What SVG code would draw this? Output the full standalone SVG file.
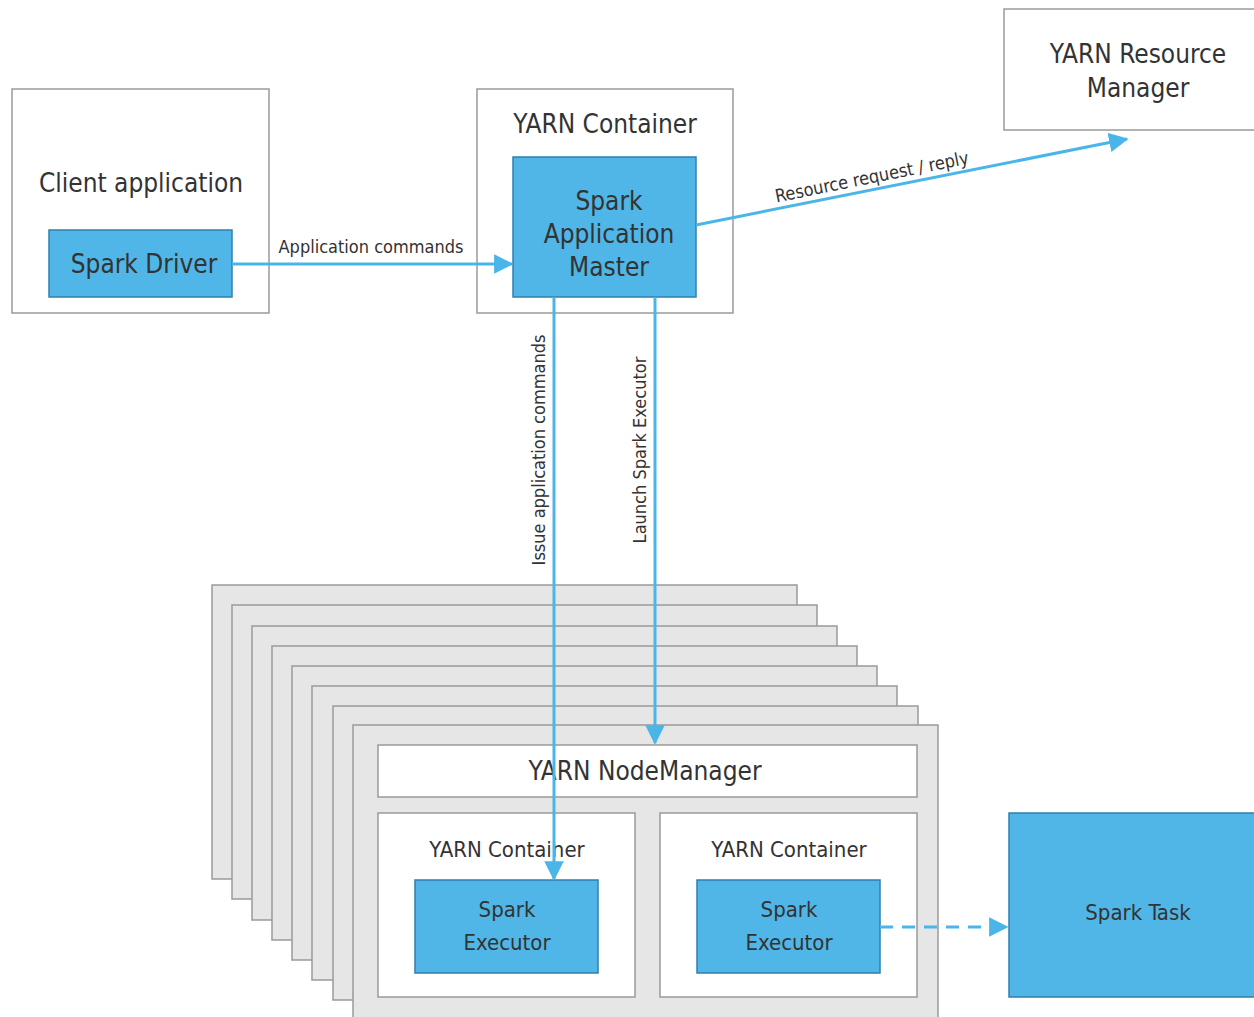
<svg xmlns="http://www.w3.org/2000/svg" width="1254" height="1017" viewBox="0 0 1254 1017">
<defs>
<style>
.box{fill:#ffffff;stroke:#9a9a9a;stroke-width:1.5}
.card{fill:#e6e6e6;stroke:#9a9a9a;stroke-width:1.5}
.blue{fill:#4fb6e7;stroke:#2f7fae;stroke-width:1.5}
.t{font-family:"DejaVu Sans Condensed","Open Sans",sans-serif;fill:#333;text-anchor:middle}
.big{font-size:26px}
.mid{font-size:22px}
.sm{font-size:18px}
.ln{stroke:#4ab5e8;stroke-width:3;fill:none}
</style>
<marker id="ah" markerWidth="6.5" markerHeight="6.5" refX="5.5" refY="3" orient="auto" markerUnits="strokeWidth" viewBox="0 0 6 6">
<path d="M0,0 L6,3 L0,6 z" fill="#4ab5e8"/>
</marker>
</defs>

<g id="client-application">
<rect class="box" x="12" y="89" width="257" height="224"/>
<text class="t big" x="141" y="192">Client application</text>
</g>
<g id="spark-driver">
<rect class="blue" x="49" y="230" width="183" height="67"/>
<text class="t big" x="144" y="273">Spark Driver</text>
</g>

<g id="yarn-container-top">
<rect class="box" x="477" y="89" width="256" height="224"/>
<text class="t big" x="605" y="133">YARN Container</text>
</g>
<g id="spark-application-master">
<rect class="blue" x="513" y="157" width="183" height="140"/>
<text class="t big" x="609" y="210">Spark</text>
<text class="t big" x="609" y="243">Application</text>
<text class="t big" x="609" y="276">Master</text>
</g>

<g id="yarn-resource-manager">
<rect class="box" x="1004" y="9" width="256" height="121"/>
<text class="t big" x="1138" y="63">YARN Resource</text>
<text class="t big" x="1138" y="97">Manager</text>
</g>

<g id="node-stack">
<rect class="card" x="212" y="585" width="585" height="294"/>
<rect class="card" x="232" y="605" width="585" height="294"/>
<rect class="card" x="252" y="626" width="585" height="294"/>
<rect class="card" x="272" y="646" width="585" height="294"/>
<rect class="card" x="292" y="666" width="585" height="294"/>
<rect class="card" x="312" y="686" width="585" height="294"/>
<rect class="card" x="333" y="706" width="585" height="294"/>
<rect class="card" x="353" y="725" width="585" height="300"/>
</g>

<g id="yarn-nodemanager">
<rect class="box" x="378" y="745" width="539" height="52"/>
<text class="t big" x="645" y="780">YARN NodeManager</text>
</g>

<g id="yarn-container-left">
<rect class="box" x="378" y="813" width="257" height="184"/>
<text class="t mid" x="507" y="857">YARN Container</text>
</g>
<g id="spark-executor-left">
<rect class="blue" x="415" y="880" width="183" height="93"/>
<text class="t mid" x="507" y="917">Spark</text>
<text class="t mid" x="507" y="950">Executor</text>
</g>

<g id="yarn-container-right">
<rect class="box" x="660" y="813" width="257" height="184"/>
<text class="t mid" x="789" y="857">YARN Container</text>
</g>
<g id="spark-executor-right">
<rect class="blue" x="697" y="880" width="183" height="93"/>
<text class="t mid" x="789" y="917">Spark</text>
<text class="t mid" x="789" y="950">Executor</text>
</g>

<g id="spark-task">
<rect class="blue" x="1009" y="813" width="250" height="184"/>
<text class="t mid" x="1138" y="920">Spark Task</text>
</g>

<g id="connectors">
<line class="ln" x1="232" y1="264" x2="512" y2="264" marker-end="url(#ah)"/>
<text class="t sm" x="371" y="253">Application commands</text>

<line class="ln" x1="696" y1="225" x2="1127" y2="139" marker-end="url(#ah)"/>
<text class="t sm" transform="translate(873,183) rotate(-11.4)">Resource request / reply</text>

<line class="ln" x1="554" y1="297" x2="554" y2="879" marker-end="url(#ah)"/>
<text class="t sm" transform="translate(545,450) rotate(-90)">Issue application commands</text>

<line class="ln" x1="655" y1="297" x2="655" y2="743" marker-end="url(#ah)"/>
<text class="t sm" transform="translate(646,450) rotate(-90)">Launch Spark Executor</text>

<line class="ln" x1="880" y1="927" x2="1007" y2="927" stroke-dasharray="13,9" marker-end="url(#ah)"/>
</g>
</svg>
